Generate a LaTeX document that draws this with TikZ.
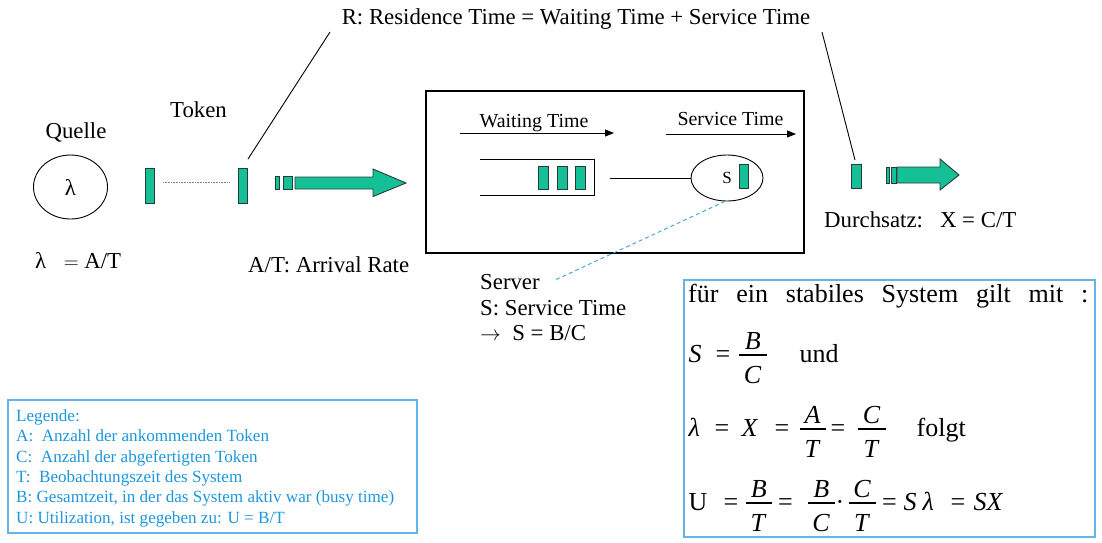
\documentclass[tikz,border=0pt]{standalone}
\usepackage{fontspec}
\setmainfont{Liberation Serif}
\usetikzlibrary{arrows.meta,shapes.geometric}
\definecolor{tok}{RGB}{22,192,150}
\definecolor{tokline}{RGB}{40,60,55}
\definecolor{legblue}{RGB}{30,150,220}
\definecolor{legframe}{RGB}{100,180,235}
\definecolor{dashblue}{RGB}{60,160,225}
% place content at an absolute offset from the line start
\newcommand{\pos}[2]{\rlap{\kern#1pt#2}}
% fraction: offset, width, numerator, denominator
\newcommand{\ffr}[4]{\pos{#1}{\rlap{\raisebox{6.2pt}{\rule{#2pt}{1.8pt}}}\rlap{\makebox[#2pt]{\raisebox{12.5pt}{\textit{#3}}}}\makebox[#2pt]{\raisebox{-21.5pt}{\textit{#4}}}}}
\begin{document}
\begin{tikzpicture}[x=1pt,y=-1pt,
  big/.style={font=\fontsize{22.8}{27}\selectfont, inner sep=0pt},
  mid/.style={font=\fontsize{19.9}{23}\selectfont, inner sep=0pt},
  leg/.style={font=\fontsize{17.1}{20}\selectfont, text=legblue, inner sep=0pt, anchor=base west},
  frm/.style={font=\fontsize{26}{30}\selectfont, inner sep=0pt, anchor=base west},
  tokbox/.style={draw=tokline, fill=tok, line width=0.9pt, inner sep=0pt, minimum width=9.5pt},
  tokfill/.style={draw=tokline, fill=tok, line width=0.9pt},
  thin/.style={line width=0.9pt},
  warrow/.style={thin, -{Triangle[length=9pt,width=7pt]}}]
\useasboundingbox (0,0) rectangle (1102,542);

% top label
\node[big, anchor=base] (rtime) at (576,24) {R: Residence Time = Waiting Time + Service Time};
\coordinate (rl) at (330,32);
\coordinate (rr) at (822,32);

% source
\node[big, anchor=base] (quelle) at (76,138) {Quelle};
\node[draw, thin, ellipse, minimum width=74pt, minimum height=64pt, font=\fontsize{22.8}{27}\selectfont, inner sep=0pt] (src) at (70.5,187) {λ};
\node[big, anchor=base west] (lam) at (35,268) {λ\kern17.5pt\(=\) A/T};

% tokens
\node[big, anchor=base] (toklab) at (198.5,117) {Token};
\node[tokbox, minimum height=35pt] (t1) at (150,185.5) {};
\node[tokbox, minimum height=35pt] (t2) at (243,185.5) {};
\coordinate (d1) at (163,182);
\coordinate (d2) at (229,182);
\draw[gray, line width=0.6pt, densely dotted] (d1) -- (d2);
\coordinate (t2top) at (248,159);
\draw[thin] (rl) -- (t2top);

% incoming arrow
\node[tokbox, minimum width=4.5pt, minimum height=13pt] (b1) at (277.5,182.5) {};
\node[tokbox, minimum width=9pt, minimum height=13pt] (b2) at (287.5,182.5) {};
\draw[tokfill] (295,177) -- (373,177) -- (373,169) -- (406,183) -- (373,196.5) -- (373,189) -- (295,189) -- cycle;
\node[big, anchor=base west] (arr) at (248,272) {A/T: Arrival Rate};

% system box
\node[draw, line width=1.2pt, minimum width=378pt, minimum height=162pt, inner sep=0pt] (sys) at (615,172) {};
\node[mid, anchor=base] (wt) at (534,127) {Waiting Time};
\node[mid, anchor=base] (st) at (730.5,125) {Service Time};
\coordinate (wa1) at (460,133); \coordinate (wa2) at (614,133);
\coordinate (sa1) at (666,134); \coordinate (sa2) at (796,134);
\draw[warrow] (wa1) -- (wa2);
\draw[warrow] (sa1) -- (sa2);
\draw[thin] (480,159) -- (594,159) -- (594,195) -- (480,195);
\node[tokbox, minimum width=10pt, minimum height=23pt] (q1) at (543,177.5) {};
\node[tokbox, minimum width=10pt, minimum height=23pt] (q2) at (562,177.5) {};
\node[tokbox, minimum width=10pt, minimum height=23pt] (q3) at (580.5,177.5) {};
\node[draw, thin, ellipse, minimum width=72pt, minimum height=46pt, inner sep=0pt] (srv) at (727,178) {};
\node[font=\fontsize{17}{20}\selectfont, inner sep=0pt, anchor=base] (slab) at (727,183) {S};
\node[tokbox, minimum width=9pt, minimum height=24pt] (s1) at (743.5,176) {};
\coordinate (ql) at (610,178);
\draw[thin] (ql) -- (srv.west);

% server text
\coordinate (srvtxt) at (555,280);
\draw[dashblue, line width=0.9pt, dash pattern=on 4pt off 3pt] (srv.265) -- (srvtxt);
\node[big, anchor=base west] (server) at (480,289) {Server};
\node[big, anchor=base west] (stime) at (480,315) {S: Service Time};
\node[big, anchor=base west] (sbc) at (480,340) {\(\rightarrow\)~ S = B/C};

% output
\node[tokbox, minimum height=24pt] (o1) at (856.5,176) {};
\coordinate (o1top) at (855,160);
\draw[thin] (rr) -- (o1top);
\node[tokbox, minimum width=3.5pt, minimum height=16pt] (ob1) at (888,175) {};
\node[tokbox, minimum width=5pt, minimum height=16pt] (ob2) at (893.5,175) {};
\draw[tokfill] (897,167) -- (940,167) -- (940,159) -- (959,175) -- (940,190) -- (940,183) -- (897,183) -- cycle;
\node[big, anchor=base west] (durch) at (824,227) {Durchsatz:\ \ \ X = C/T};

% legend
\draw[legframe, line width=1.3pt] (8,400) rectangle (417,533);
\node[leg] (l0) at (16,421) {Legende:};
\node[leg] (l1) at (16,441.5) {A:\ \ Anzahl der ankommenden Token};
\node[leg] (l2) at (16,462) {C:\ \ Anzahl der abgefertigten Token};
\node[leg] (l3) at (16,482) {T:\ \ Beobachtungszeit des System};
\node[leg] (l4) at (16,502.5) {B: Gesamtzeit, in der das System aktiv war (busy time)};
\node[leg] (l5) at (16,523) {U: Utilization, ist gegeben zu: U = B/T};

% formula box
\draw[legframe, line width=1.3pt] (684,280) rectangle (1095,537);
\node[frm] (f1) at (688,302) {\makebox[400pt][s]{für ein stabiles System gilt mit :}};
\node[frm] (f2) at (688,362) {\pos{0}{\textit{S}}\pos{27}{=}\ffr{50}{28}{B}{C}\pos{111}{und}};
\node[frm] (f3) at (688,436) {\pos{0}{\textit{λ}}\pos{26}{=}\pos{53}{\textit{X}}\pos{86}{=}\ffr{111}{26}{A}{T}\pos{142}{=}\ffr{169}{28}{C}{T}\pos{228}{folgt}};
\node[frm] (f4) at (688,510) {\pos{0}{U}\pos{35}{=}\ffr{57}{26}{B}{T}\pos{89.5}{=}\ffr{119}{27}{B}{C}\pos{147}{·}\ffr{160}{27}{C}{T}\pos{193.5}{=}\pos{215}{\textit{S}}\pos{234}{\textit{λ}}\pos{262}{=}\pos{285}{\textit{SX}}};
\end{tikzpicture}
\end{document}
